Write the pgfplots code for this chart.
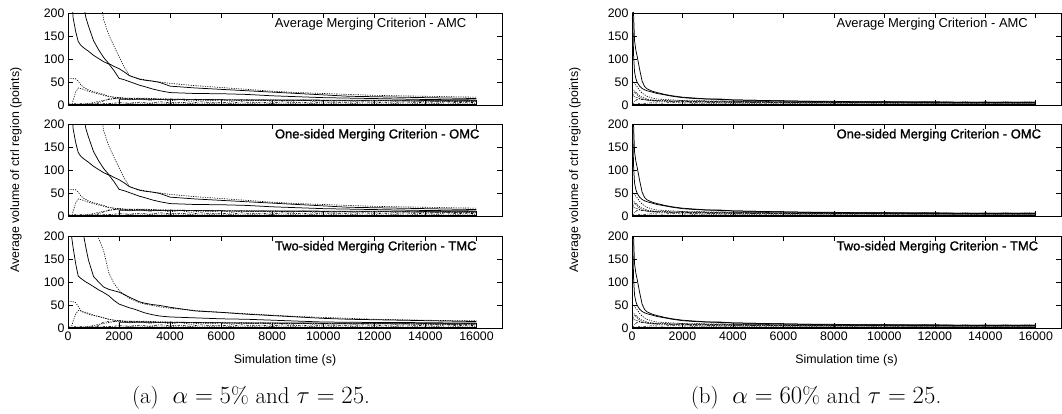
\documentclass[border=0pt]{standalone}
\usepackage{pgfplots}
\pgfplotsset{compat=1.18}
\usepackage{pgfplotstable}
\usepackage{fontspec}
\setsansfont{Liberation Sans}
\newfontfamily\heavysf{Liberation Sans}[BoldFont={Liberation Sans}, BoldFeatures={FakeBold=1.3}]

% left column, AMC and OMC (alpha = 5%)
\pgfplotstableread{
t     sa   sb   dc   dd  de  df
0     400  400  400  58  0   0
100   400  300  400  58  0   0
150   400  230  400  58  0   0
200   400  190  400  57  10  0
300   400  160  400  57  28  0
400   350  138  400  52  37  0
500   280  130  400  44  36  0
600   220  125  400  39  34  0
700   190  121  400  36  32  0
800   172  117  400  33  30  0
1000  140  108  400  29  27  1
1200  120  101  255  26  24  5
1400  103  94   185  23  21  9
1600  90   89   152  19  18  13
1800  84   75   128  17  17  14
2000  79   58   105  16  16  15
2200  72   55   83   15  15  14
2400  64   51   64   15  14  15
2600  60   47   60   14  15  14
2800  56   43   57   14  13  15
3000  54   40   55   15  14  13
3300  52   35   52   14  12  14
3600  49   31   50   13  13  12
4000  41   27   47   13  12  13
5000  37   25   42   12  11  12
6000  34   24.5 38   11  11  11
7000  31   23   34   11  10  11
8000  28   20   30   11  10  10
9000  25   18   27   10  10  10
10000 22   16   25   10  9   10
11000 19   15   23   10  9   9
12000 18   14   21   10  9   9
13000 17   13   20   9   9   9
14000 16   12   19   9   8   9
15000 15   11.5 18   9   8   8
16000 14   11   17   9   8   8
}\leftA

% left column, TMC
\pgfplotstableread{
t     sa   sb   dc   dd  de  df
0     400  400  400  59  0   0
100   400  230  400  58  0   0
150   400  195  400  58  5   0
200   400  175  400  57  15  0
300   400  140  400  55  30  0
400   400  113  400  47  38  0
500   300  108  400  38  37  0
600   205  104  400  34  35  0
700   175  100  400  32  34  0
800   148  97   400  30  32  0
1000  112  90   300  27  28  0
1200  100  83   195  25  25  6
1400  89   77   167  22  22  13
1600  84   70   120  19  19  14
1800  81   60   97   17  17  14
2000  78   52   82   16  16  15
2200  73   48   72   15  15  14
2400  67   44   65   15  14  15
2600  62   41   60   14  15  14
2800  57   37   55   14  13  15
3000  54   33   52   15  14  13
3300  51   29   49   14  12  14
3600  49   26   46   13  13  12
4000  45   24   43   13  12  13
5000  37   22   38   12  11  12
6000  34   20   34   11  11  11
7000  30   19   31   11  10  11
8000  27   17   28   11  10  10
9000  24   15   25   10  10  10
10000 21   13   23   10  9   10
11000 19   12.5 21   10  9   9
12000 18   12   19   10  9   9
13000 17   12   18   9   9   9
14000 16   11.5 17   9   8   9
15000 15   11   16   9   8   8
16000 14   11   16   9   8   8
}\leftT

% right column (alpha = 60%)
\pgfplotstableread{
t     sa   sb   dc   dd  de  df
0     400  300  52   35  0   0
30    300  200  52   34  15  2
60    200  110  50   32  25  5
100   140  72   47   30  28  8
150   120  58   43   28  26  10
200   107  50   40   25  22  12
300   78   41   32   20  17  13
400   52   36   26   17  14  12
500   40   33   22   15  12  11
600   35   31   19   13  11  11
800   30   28   15   11  9   10
1000  27   25   13   10  8   9
1300  23   22   12   10  8   9
1600  20   19   11   9   7   8
2000  17   16   10   9   7   8
2500  15   14   10   8   7   7
3000  13   13   9    8   6   7
3500  12   13   9    8   6   7
4000  11   11   8    7   6   6
5000  10   10   8    7   6   6
6000  9    9    7    6   5   6
7000  8    8    7    6   5   5
8000  8    7    6    6   5   5
9000  7    7    6    6   5   5
10000 7    7    6    5   5   5
11000 7    6    6    5   4   5
12000 7    6    5    5   4   5
13000 6    6    5    5   4   4
14000 6    6    5    5   4   4
15000 6    6    5    5   4   4
16000 6    6    5    5   4   4
}\rightC

% near-zero band, left column
\pgfplotstableread{
t     n1  n2  n3  z
0     0   2   1   0.6
400   1   3   1   0.6
800   3   2   2   0.6
1200  8   4   1   0.6
1600  12  3   2   0.6
2000  15  5   1   0.6
2400  11  4   3   0.6
2800  14  6   2   0.6
3200  10  4   3   0.6
3600  13  7   2   0.6
4000  9   5   3   0.6
4400  12  6   2   0.6
4800  8   4   3   0.6
5200  11  7   2   0.6
5600  9   5   3   0.6
6000  12  6   2   0.6
6400  8   4   3   0.6
6800  11  7   2   0.6
7200  9   5   3   0.6
7600  11  6   2   0.6
8000  8   4   3   0.6
8400  10  7   2   0.6
8800  8   5   3   0.6
9200  11  6   2   0.6
9600  8   4   3   0.6
10000 10  7   2   0.6
10400 8   5   3   0.6
10800 10  6   2   0.6
11200 8   4   3   0.6
11600 10  7   2   0.6
12000 8   5   3   0.6
12400 10  6   2   0.6
12800 8   4   3   0.6
13200 10  7   2   0.6
13600 8   5   3   0.6
14000 10  6   2   0.6
14400 8   4   3   0.6
14800 10  7   2   0.6
15200 8   5   3   0.6
15600 10  6   2   0.6
16000 9   5   3   0.6
}\noiseL

% near-zero band, right column
\pgfplotstableread{
t     n1  n2  n3  z
0     20  2   1   0.6
400   12  3   1   0.6
800   9   5   2   0.6
1200  11  4   1   0.6
1600  8   6   2   0.6
2000  10  4   1   0.6
2400  7   6   3   0.6
2800  9   4   2   0.6
3200  7   6   3   0.6
3600  9   4   2   0.6
4000  6   5   3   0.6
4400  8   4   2   0.6
4800  6   5   3   0.6
5200  8   4   2   0.6
5600  6   5   3   0.6
6000  7   4   2   0.6
6400  5   5   3   0.6
6800  7   4   2   0.6
7200  5   5   3   0.6
7600  7   4   2   0.6
8000  5   5   3   0.6
8400  7   4   2   0.6
8800  5   5   3   0.6
9200  7   4   2   0.6
9600  5   5   3   0.6
10000 7   4   2   0.6
10400 5   5   3   0.6
10800 7   4   2   0.6
11200 5   5   3   0.6
11600 7   4   2   0.6
12000 5   5   3   0.6
12400 7   4   2   0.6
12800 5   5   3   0.6
13200 7   4   2   0.6
13600 5   5   3   0.6
14000 7   4   2   0.6
14400 5   5   3   0.6
14800 7   4   2   0.6
15200 5   5   3   0.6
15600 7   4   2   0.6
16000 6   5   3   0.6
}\noiseR

\pgfplotsset{
  panel/.style={
    scale only axis, height=92bp,
    xmin=0, xmax=17000, ymin=0, ymax=200,
    xtick={0,2000,...,16000}, ytick={0,50,...,200},
    tick align=inside, major tick length=5bp,
    tick style={black, line width=0.6pt},
    axis line style={line width=0.8pt},
    ticklabel style={font=\sffamily\fontsize{12.4}{14}\selectfont},
    label style={font=\sffamily\fontsize{12.4}{14}\selectfont},
    /pgf/number format/assume math mode=true,
    /pgf/number format/1000 sep={},
    scaled x ticks=false,
  },
}
\tikzset{
  sol/.style={black, line width=0.75pt},
  dot/.style={black, line width=0.6pt, dash pattern=on 1.2pt off 1.2pt},
  dashdot/.style={black, line width=0.6pt, dash pattern=on 2.4pt off 1.4pt on 0.6pt off 1.4pt},
  ttl/.style={anchor=west, inner sep=0pt, font=\sffamily\fontsize{13}{15}\selectfont},
  ttlh/.style={anchor=west, inner sep=0pt, font=\heavysf\bfseries\fontsize{13}{15}\selectfont},
  subcap/.style={font=\fontsize{23}{26}\selectfont, inner sep=0pt, anchor=base},
}

\newcommand\curves[2]{%
  \addplot[sol] table[x=t,y=sa] {#1};
  \addplot[sol] table[x=t,y=sb] {#1};
  \addplot[dot] table[x=t,y=dc] {#1};
  \addplot[dot] table[x=t,y=dd] {#1};
  \addplot[dot] table[x=t,y=de] {#1};
  \addplot[dashdot] table[x=t,y=df] {#1};
  \addplot[dot] table[x=t,y=n1] {#2};
  \addplot[dashdot] table[x=t,y=n2] {#2};
  \addplot[dot] table[x=t,y=n3] {#2};
  \addplot[black, line width=1.4pt] table[x=t,y=z] {#2};
}

\begin{document}
\begin{tikzpicture}
\useasboundingbox (0,0) rectangle (1062bp,-414bp);

% ---- left column ----
\begin{axis}[panel, width=434bp, at={(68bp,-13bp)}, anchor=north west, xticklabels={}]
  \curves{\leftA}{\noiseL}
  \addplot[sol, line width=0.5pt] coordinates {(2000,1) (2000,12) (16000,10) (16000,2)};
  \node[ttl] at (axis cs:8100,176) {Average Merging Criterion - AMC};
\end{axis}
\begin{axis}[panel, width=434bp, at={(68bp,-124bp)}, anchor=north west, xticklabels={},
  ylabel={Average volume of ctrl region (points)},
  ylabel style={at={(axis description cs:-0.12,0.5)}, anchor=center}]
  \curves{\leftA}{\noiseL}
  \addplot[sol, line width=0.5pt] coordinates {(2000,1) (2000,12) (16000,10) (16000,2)};
  \node[ttlh] at (axis cs:8100,176) {One-sided Merging Criterion - OMC};
\end{axis}
\begin{axis}[panel, width=434bp, at={(68bp,-236bp)}, anchor=north west,
  xlabel={Simulation time (s)},
  xlabel style={at={(axis description cs:0.5,-0.348)}, anchor=center}]
  \curves{\leftT}{\noiseL}
  \addplot[sol, line width=0.5pt] coordinates {(2000,1) (2000,12) (16000,10) (16000,2)};
  \node[ttlh] at (axis cs:8100,176) {Two-sided Merging Criterion - TMC};
\end{axis}

% ---- right column ----
\begin{axis}[panel, width=429bp, at={(632bp,-13bp)}, anchor=north west, xticklabels={}]
  \curves{\rightC}{\noiseR}
  \node[ttl] at (axis cs:8100,176) {Average Merging Criterion - AMC};
\end{axis}
\begin{axis}[panel, width=429bp, at={(632bp,-124bp)}, anchor=north west, xticklabels={},
  ylabel={Average volume of ctrl region (points)},
  ylabel style={at={(axis description cs:-0.133,0.5)}, anchor=center}]
  \curves{\rightC}{\noiseR}
  \node[ttlh] at (axis cs:8100,176) {One-sided Merging Criterion - OMC};
\end{axis}
\begin{axis}[panel, width=429bp, at={(632bp,-236bp)}, anchor=north west,
  xlabel={Simulation time (s)},
  xlabel style={at={(axis description cs:0.5,-0.348)}, anchor=center}]
  \curves{\rightC}{\noiseR}
  \node[ttlh] at (axis cs:8100,176) {Two-sided Merging Criterion - TMC};
\end{axis}

\node[subcap] at (251bp,-403bp) {(a)\hspace{0.6em}$\alpha = 5\%$ and $\tau = 25$.};
\node[subcap] at (816bp,-403bp) {(b)\hspace{0.6em}$\alpha = 60\%$ and $\tau = 25$.};
\end{tikzpicture}
\end{document}
